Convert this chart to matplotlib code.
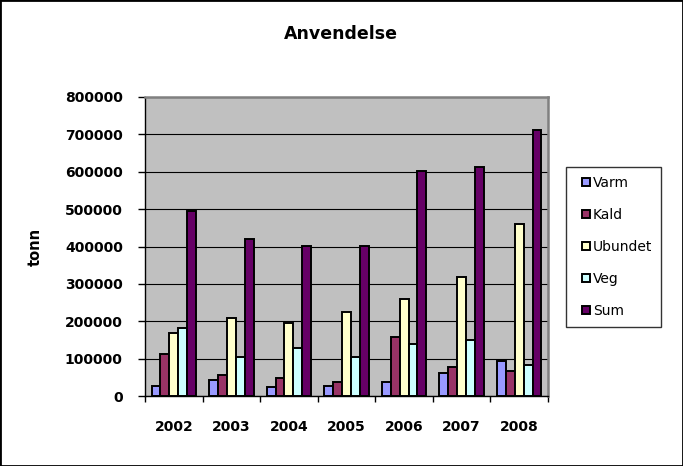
import numpy as np
import matplotlib
matplotlib.use("Agg")
import matplotlib.pyplot as plt
from matplotlib.patches import Rectangle
from matplotlib.lines import Line2D

years = ["2002", "2003", "2004", "2005", "2006", "2007", "2008"]
series = ["Varm", "Kald", "Ubundet", "Veg", "Sum"]
varm = [28000, 43000, 25000, 28000, 38000, 62000, 94000]
kald = [112000, 56000, 49000, 38000, 158000, 78000, 68000]
ubundet = [168000, 209000, 196000, 225000, 260000, 319000, 460000]
veg = [183000, 105000, 129000, 105000, 140000, 150000, 83000]
total = [495000, 420000, 402000, 401000, 602000, 614000, 711000]
colors = ["#9999FF", "#993366", "#FFFFCC", "#CCFFFF", "#660066"]

plt.rcParams['font.family'] = ['DejaVu Sans']

fig = plt.figure(figsize=(6.83, 4.66), dpi=100)
ax = fig.add_axes([145 / 683, 1 - 396 / 466, 403 / 683, 299 / 466])
ax.set_facecolor("#C0C0C0")

x = np.arange(len(years))
w = 0.154
for i, (name, vals) in enumerate(zip(series, [varm, kald, ubundet, veg, total])):
    ax.bar(x + (i - 2) * w, vals, width=w, color=colors[i],
           edgecolor="black", linewidth=1.4, label=name, zorder=3)

ax.set_xlim(-0.5, len(years) - 0.5)
ax.set_ylim(0, 800000)
ax.set_yticks(np.arange(0, 800001, 100000))
ax.set_yticklabels([str(v) for v in range(0, 800001, 100000)],
                   fontsize=10, fontweight="bold")
ax.yaxis.grid(True, color="black", linewidth=0.8, zorder=1)
ax.set_axisbelow(True)

ax.set_xticks(x)
ax.set_xticklabels(years, fontsize=10, fontweight="bold")
ax.set_xticks(np.arange(-0.5, len(years)), minor=True)
ax.tick_params(axis="x", which="major", length=0, pad=17)
ax.tick_params(axis="x", which="minor", length=4, width=1, direction="out")
ax.tick_params(axis="y", length=5, width=1, direction="out", pad=11)

for s in ["top", "right"]:
    ax.spines[s].set_color("#808080")
    ax.spines[s].set_linewidth(1.8)
for s in ["left", "bottom"]:
    ax.spines[s].set_color("black")
    ax.spines[s].set_linewidth(1.0)

ax.set_ylabel("tonn", fontsize=10.5, fontweight="bold", labelpad=16)
fig.text(341 / 683, 1 - 34 / 466, "Anvendelse", fontsize=12.5,
         fontweight="bold", ha="center", va="center")

handles = [Line2D([], [], linestyle="none", marker="s", markersize=5.8,
                  markerfacecolor=c, markeredgecolor="black",
                  markeredgewidth=1.4) for c in colors]
leg = fig.legend(handles=handles, labels=series, loc="upper left",
                 bbox_to_anchor=(566 / 683, 1 - 167 / 466),
                 fontsize=10, frameon=True, fancybox=False,
                 handlelength=1.6, handleheight=0.7, handletextpad=-0.3,
                 labelspacing=1.3, borderpad=0.65, borderaxespad=0)
leg.get_frame().set_edgecolor("black")
leg.get_frame().set_linewidth(1.0)

fig.patches.append(Rectangle((0, 0), 1, 1, transform=fig.transFigure,
                             fill=False, edgecolor="black", linewidth=2))

fig.savefig("out.png", dpi=100)
